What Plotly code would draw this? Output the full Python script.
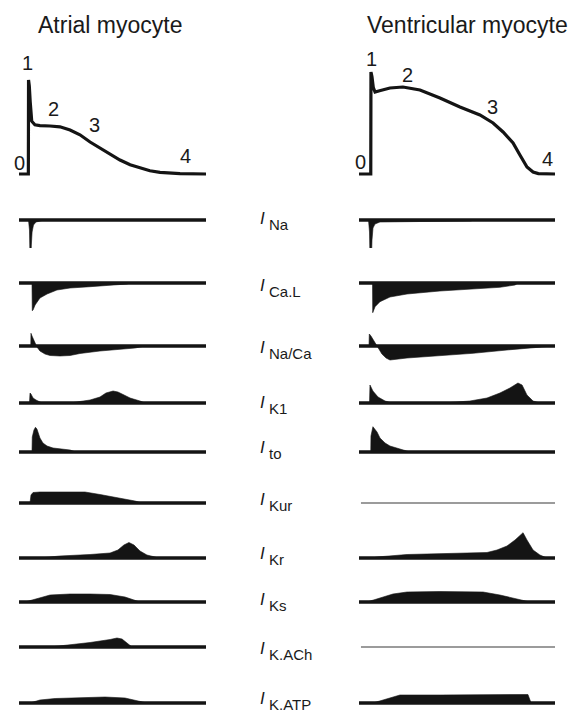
import plotly.graph_objects as go

W, H = 571, 717

# ---------------- data (time in % of trace window, AP in mV, currents in arbitrary units) ----------------
ap_atr_t = [0, 5.0, 5.1, 5.5, 6.0, 6.8, 8.5, 11.2, 16.6, 21.9, 27.3, 32.6, 38.0, 43.3, 48.7, 54.0, 59.4, 64.7, 70.0, 75.4, 86.1, 100]
ap_atr_v = [-80, -80, 37.5, 30, 10, -14, -18.5, -19.5, -20, -21, -25, -31, -40, -47.5, -56, -62.5, -68.5, -72.5, -76, -78, -79.5, -80]
ap_ven_t = [0, 6.0, 6.1, 6.6, 7.3, 8.2, 10.5, 15.8, 22.4, 31.1, 41.3, 51.5, 61.7, 68.4, 73.5, 78.6, 82.1, 85.7, 88.8, 91.5, 100]
ap_ven_v = [-80, -80, 47.5, 42, 28, 22.5, 24, 27.5, 28.75, 25, 15, 3.75, -6.25, -16.25, -27.5, -41.25, -56.25, -71.25, -77.5, -79.5, -80]

phase_labels = ["0", "1", "2", "3", "4"]
phase_atr_t = [0.5, 4.8, 18.2, 40.6, 88.8]
phase_atr_v = [-66, 59, 1, -19, -58]
phase_ven_t = [1.0, 6.6, 24.5, 68.0, 96.0]
phase_ven_v = [-65, 64, 44, 4, -61]

current_names = ["Na", "Ca.L", "Na/Ca", "K1", "to", "Kur", "Kr", "Ks", "K.ACh", "K.ATP"]

INa_atr_t = [5.08, 5.6, 5.9, 6.4, 6.6, 7.0, 7.75, 9.1, 12.3, 16.6]
INa_atr_i = [0, -10, -40, -40, -25, -12, -5, -2, -0.5, 0]
INa_ven_t = [4.85, 5.36, 5.6, 6.38, 6.63, 7.14, 8.16, 10.7, 31.1, 56.6, 59.2]
INa_ven_i = [0, -12, -38, -38, -20, -8, -4, -2, -1.5, -1, 0]

ICaL_atr_t = [6.95, 7.1, 7.5, 8.6, 11.2, 15.0, 20.3, 27.3, 38.0, 48.7, 57.8, 59.4]
ICaL_atr_i = [0, -27.7, -27, -22, -15, -11, -7, -5, -3.7, -2.5, -1, 0]
ICaL_ven_t = [6.9, 7.0, 8.2, 10.7, 15.8, 24.5, 41.3, 58.2, 71.9, 79.6, 81.1]
ICaL_ven_i = [0, -29.7, -23.7, -18.7, -14, -11, -8, -6, -4.3, -2, 0]

INaCa_atr_t = [6.3, 6.4, 6.95, 8.0, 9.1, 9.6, 11.2, 13.9, 16.6, 21.9, 27.3, 32.6, 43.3, 54.0, 62.0, 67.4]
INaCa_atr_i = [0, 12.7, 10, 5, 1, -1, -5, -8, -9.5, -10, -9.5, -7.5, -5, -3, -2, 0]
INaCa_ven_t = [5.1, 5.26, 6.1, 7.65, 9.2, 9.7, 11.7, 13.8, 15.8, 24.5, 41.3, 58.2, 75.5, 92.3, 99.0]
INaCa_ven_i = [0, 12, 10, 5, 1, -1, -8, -12, -14, -12, -9.7, -7.3, -4, -1.5, 0]

IK1_atr_t = [5.6, 5.9, 6.4, 7.5, 9.1, 11.2, 12.3, 27.3, 32.6, 38.0, 43.3, 46.5, 50.3, 52.9, 55.1, 59.4, 64.7, 67.4]
IK1_atr_i = [0, 10, 9, 5, 3, 1, 0, 0, 1.5, 3, 6, 10, 12, 11, 9, 5, 2, 0]
IK1_ven_t = [5.36, 5.6, 7.1, 9.7, 13.3, 16.8, 46.4, 56.6, 65.3, 71.9, 77.0, 81.1, 83.2, 85.7, 88.8, 92.3]
IK1_ven_i = [0, 18, 12, 6, 2, 0, 0.5, 2, 5, 10, 15, 20, 18, 8, 2, 0]

Ito_atr_t = [6.95, 7.1, 8.0, 8.8, 9.6, 10.2, 11.2, 12.8, 15.0, 18.2, 21.9, 27.3, 30.5]
Ito_atr_i = [0, 15, 22, 24.7, 23, 20, 14, 9, 6, 4, 3, 2, 0]
Ito_ven_t = [6.0, 6.1, 7.1, 8.2, 9.2, 10.7, 13.3, 15.8, 19.4, 23.5, 26.0]
Ito_ven_i = [0, 16, 25.3, 23, 20, 14, 9, 6, 4, 2, 0]

IKur_atr_t = [5.9, 6.4, 7.5, 11.2, 21.9, 35.3, 43.3, 54.0, 62.0, 65.8]
IKur_atr_i = [0, 8, 10.5, 11, 11, 11, 8.5, 5, 2, 0]
IKur_ven_t = []
IKur_ven_i = []

IKr_atr_t = [11.2, 21.9, 38.0, 48.7, 52.9, 56.1, 58.8, 61.5, 64.7, 68.4, 72.7, 74.3]
IKr_atr_i = [0, 2, 3.5, 5, 8, 13, 15.5, 13, 7, 3, 1, 0]
IKr_ven_t = [6.6, 9.2, 24.5, 46.4, 65.3, 70.4, 75.5, 79.6, 83.7, 85.7, 88.8, 92.3, 95.9]
IKr_ven_i = [0, 1, 3.5, 4.5, 5.5, 8, 12, 18, 25.3, 18, 8, 3, 0]

IKs_atr_t = [3.2, 7.5, 12.8, 16.6, 27.3, 38.0, 48.7, 56.7, 62.0, 64.7]
IKs_atr_i = [0, 2, 5, 7, 8, 8, 7.5, 5, 2, 0]
IKs_ven_t = [4.1, 10.7, 17.3, 24.5, 41.3, 63.3, 71.9, 80.6, 87.2]
IKs_ven_i = [0, 4, 8, 10, 10.5, 10, 7, 3, 0]

IKACh_atr_t = [16.6, 27.3, 38.0, 48.7, 52.4, 55.1, 57.8, 60.4]
IKACh_atr_i = [0, 2, 4.5, 7.5, 9, 8, 4, 0]
IKACh_ven_t = []
IKACh_ven_i = []

IKATP_atr_t = [5.9, 11.2, 19.3, 32.6, 46.0, 56.7, 64.7, 68.4]
IKATP_atr_i = [0, 3, 4.5, 5, 6, 5, 2, 0]
IKATP_ven_t = [7.1, 15.8, 20.9, 41.3, 61.7, 86.2, 87.8]
IKATP_ven_i = [0, 5, 8, 8, 8.5, 8.5, 0]

atr_t = [INa_atr_t, ICaL_atr_t, INaCa_atr_t, IK1_atr_t, Ito_atr_t, IKur_atr_t, IKr_atr_t, IKs_atr_t, IKACh_atr_t, IKATP_atr_t]
atr_i = [INa_atr_i, ICaL_atr_i, INaCa_atr_i, IK1_atr_i, Ito_atr_i, IKur_atr_i, IKr_atr_i, IKs_atr_i, IKACh_atr_i, IKATP_atr_i]
ven_t = [INa_ven_t, ICaL_ven_t, INaCa_ven_t, IK1_ven_t, Ito_ven_t, IKur_ven_t, IKr_ven_t, IKs_ven_t, IKACh_ven_t, IKATP_ven_t]
ven_i = [INa_ven_i, ICaL_ven_i, INaCa_ven_i, IK1_ven_i, Ito_ven_i, IKur_ven_i, IKr_ven_i, IKs_ven_i, IKACh_ven_i, IKATP_ven_i]

# ---------------- layout (pixel geometry) ----------------
row_base_px = [220, 283, 346, 403, 452, 503, 558, 602, 647, 703]
row_up = [35, 35, 35, 35, 35, 35, 35, 35, 35, 35]
row_down = [45, 45, 45, 12, 12, 12, 12, 12, 12, 12]
label_I_dy = [-2, 2, 1, -1, -5, -4, -5, -3, 1, -5]   # px, positive = down
SUB_DROP = 6
ap_top_px, ap_bot_px = 40, 180
ap_range = [-87.5, 87.5]

BLACK = "#141414"
FONT = "Liberation Sans, Arial, sans-serif"

fig = go.Figure()

def pdom(top_px, bot_px):
    return [1 - bot_px / H, 1 - top_px / H]

layout = dict(
    width=W, height=H, margin=dict(l=0, r=0, t=0, b=0),
    paper_bgcolor="white", plot_bgcolor="white", showlegend=False,
    xaxis=dict(domain=[19 / W, 206 / W], range=[0, 100], visible=False, fixedrange=True),
    xaxis2=dict(domain=[359 / W, 555 / W], range=[0, 100], visible=False, fixedrange=True),
    yaxis=dict(domain=pdom(ap_top_px, ap_bot_px), range=ap_range, visible=False, fixedrange=True),
)

# action potentials
fig.add_trace(go.Scatter(x=ap_atr_t, y=ap_atr_v, mode="lines", xaxis="x", yaxis="y",
                         line=dict(color=BLACK, width=3.2), hoverinfo="skip"))
fig.add_trace(go.Scatter(x=ap_ven_t, y=ap_ven_v, mode="lines", xaxis="x2", yaxis="y",
                         line=dict(color=BLACK, width=3.2), hoverinfo="skip"))

annotations = []
for lab, t, v in zip(phase_labels, phase_atr_t, phase_atr_v):
    annotations.append(dict(x=t, y=v, xref="x", yref="y", text=lab, showarrow=False,
                            xanchor="center", yanchor="middle",
                            font=dict(family=FONT, size=20, color="#1a1a1a")))
for lab, t, v in zip(phase_labels, phase_ven_t, phase_ven_v):
    annotations.append(dict(x=t, y=v, xref="x2", yref="y", text=lab, showarrow=False,
                            xanchor="center", yanchor="middle",
                            font=dict(family=FONT, size=20, color="#1a1a1a")))

annotations.append(dict(x=110 / W, y=1 - 25 / H, xref="paper", yref="paper", text="Atrial myocyte",
                        xanchor="center", yanchor="middle",
                        showarrow=False, font=dict(family=FONT, size=23, color="#1a1a1a")))
annotations.append(dict(x=467 / W, y=1 - 25 / H, xref="paper", yref="paper", text="Ventricular myocyte",
                        xanchor="center", yanchor="middle",
                        showarrow=False, font=dict(family=FONT, size=23, color="#1a1a1a")))

for k in range(10):
    yname = "y%d" % (k + 2)
    layout["yaxis%d" % (k + 2)] = dict(
        domain=pdom(row_base_px[k] - row_up[k], row_base_px[k] + row_down[k]),
        range=[-row_down[k], row_up[k]], visible=False, fixedrange=True)
    for xa, tt, ii in (("x", atr_t[k], atr_i[k]), ("x2", ven_t[k], ven_i[k])):
        if len(tt) > 0:
            fig.add_trace(go.Scatter(x=tt, y=ii, mode="lines", fill="tozeroy", fillcolor=BLACK,
                                     xaxis=xa, yaxis=yname, line=dict(color=BLACK, width=0.6),
                                     hoverinfo="skip"))
            fig.add_trace(go.Scatter(x=[0, 100], y=[0, 0], mode="lines", xaxis=xa, yaxis=yname,
                                     line=dict(color=BLACK, width=3.6), hoverinfo="skip"))
        else:
            fig.add_trace(go.Scatter(x=[1, 100], y=[0, 0], mode="lines", xaxis=xa, yaxis=yname,
                                     line=dict(color="#7a7a7a", width=1.6), hoverinfo="skip"))
    # italic I
    annotations.append(dict(x=258 / W, y=0, xref="paper", yref=yname, xanchor="left", yanchor="middle",
                            yshift=-label_I_dy[k], text="<i>I</i>",
                            showarrow=False, font=dict(family=FONT, size=17, color="#1a1a1a")))
    # subscript
    annotations.append(dict(x=267 / W, y=0, xref="paper", yref=yname, xanchor="left", yanchor="middle",
                            yshift=-(label_I_dy[k] + SUB_DROP), text=current_names[k],
                            showarrow=False, font=dict(family=FONT, size=15, color="#1a1a1a")))

layout["annotations"] = annotations
fig.update_layout(**layout)
fig.write_html("out.html")
